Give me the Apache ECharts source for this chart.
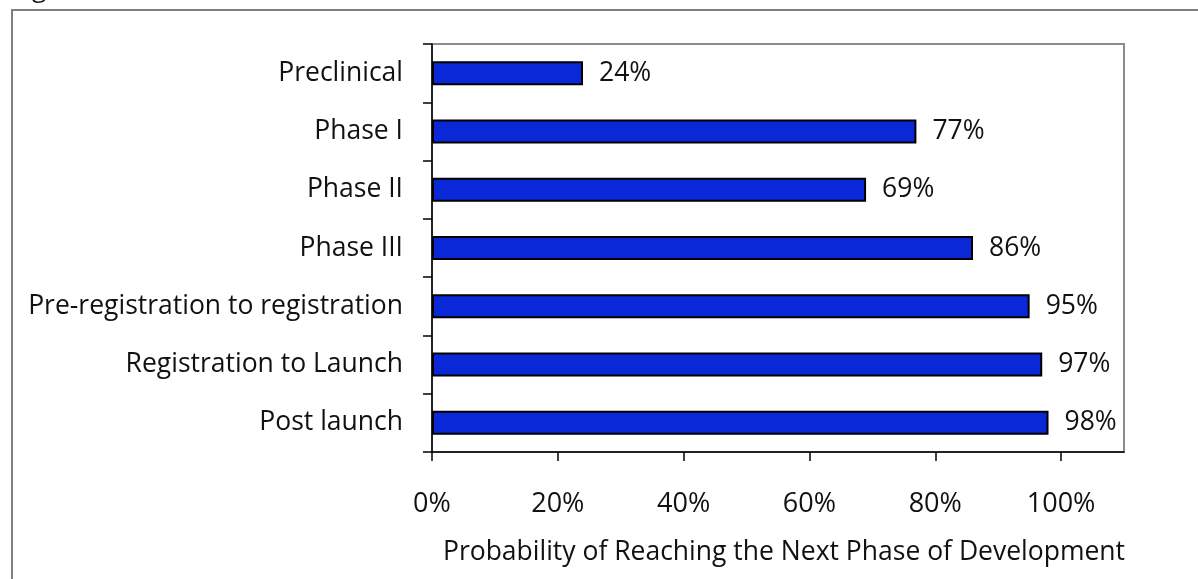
<!DOCTYPE html>
<html>
<head>
<meta charset="utf-8">
<style>
  html, body { margin: 0; padding: 0; background: #ffffff; }
  #chart { width: 1198px; height: 579px; }
</style>
<script src="https://cdn.jsdelivr.net/npm/echarts@6/dist/echarts.min.js"></script>
</head>
<body>
<div id="chart"></div>
<script>
// Development phases, top to bottom
const categories = [
  'Preclinical',
  'Phase I',
  'Phase II',
  'Phase III',
  'Pre-registration to registration',
  'Registration to Launch',
  'Post launch'
];
// Probability (%) of moving on to the next phase
const probabilities = [24, 77, 69, 86, 95, 97, 98];
// Labelled positions on the probability axis
const xTicks = [0, 20, 40, 60, 80, 100];

const FONT = '"Open Sans", sans-serif';
const TEXT = '#111111';

const chart = echarts.init(document.getElementById('chart'), null, { renderer: 'canvas' });

chart.setOption({
  backgroundColor: '#ffffff',
  animation: false,
  textStyle: { fontFamily: FONT },
  graphic: [
    {
      type: 'polyline',
      silent: true,
      shape: { points: [[12, 600], [12, 10], [1210, 10]] },
      style: { stroke: '#808080', lineWidth: 2, fill: null }
    },
    {
      type: 'text',
      silent: true,
      left: 12,
      top: -23,
      style: { text: 'Figure', fontFamily: FONT, fontSize: 26, fill: TEXT }
    }
  ],
  grid: {
    left: 432,
    top: 44,
    right: 74,
    bottom: 127,
    show: true,
    borderColor: '#8c8c8c',
    borderWidth: 2,
    backgroundColor: 'transparent'
  },
  xAxis: {
    type: 'value',
    min: 0,
    max: 110,
    interval: 20,
    splitLine: { show: false },
    axisLine: { show: true, onZero: false, lineStyle: { color: '#000', width: 1.5 } },
    axisTick: {
      show: true,
      length: 9,
      customValues: xTicks,
      lineStyle: { color: '#000', width: 1.5 }
    },
    axisLabel: {
      customValues: xTicks,
      formatter: '{value}%',
      fontFamily: FONT,
      fontSize: 27,
      color: TEXT,
      margin: 39
    },
    name: 'Probability of Reaching the Next Phase of Development',
    nameLocation: 'middle',
    nameGap: 87,
    nameTextStyle: { fontFamily: FONT, fontSize: 26.5, color: TEXT, padding: [0, 0, 0, 12] }
  },
  yAxis: {
    type: 'category',
    data: categories,
    inverse: true,
    axisLine: { show: true, lineStyle: { color: '#000', width: 1.5 } },
    axisTick: { show: true, length: 9, alignWithLabel: false, lineStyle: { color: '#000', width: 1.5 } },
    axisLabel: {
      fontFamily: FONT,
      fontSize: 26.5,
      color: TEXT,
      margin: 29
    },
    splitLine: { show: false }
  },
  series: [
    {
      type: 'bar',
      data: probabilities,
      barWidth: 24,
      itemStyle: {
        color: '#0a28d8',
        borderColor: '#000',
        borderWidth: 2
      },
      label: {
        show: true,
        position: 'right',
        distance: 16,
        formatter: '{c}%',
        fontFamily: FONT,
        fontSize: 26.5,
        color: TEXT
      }
    }
  ]
});
</script>
</body>
</html>
